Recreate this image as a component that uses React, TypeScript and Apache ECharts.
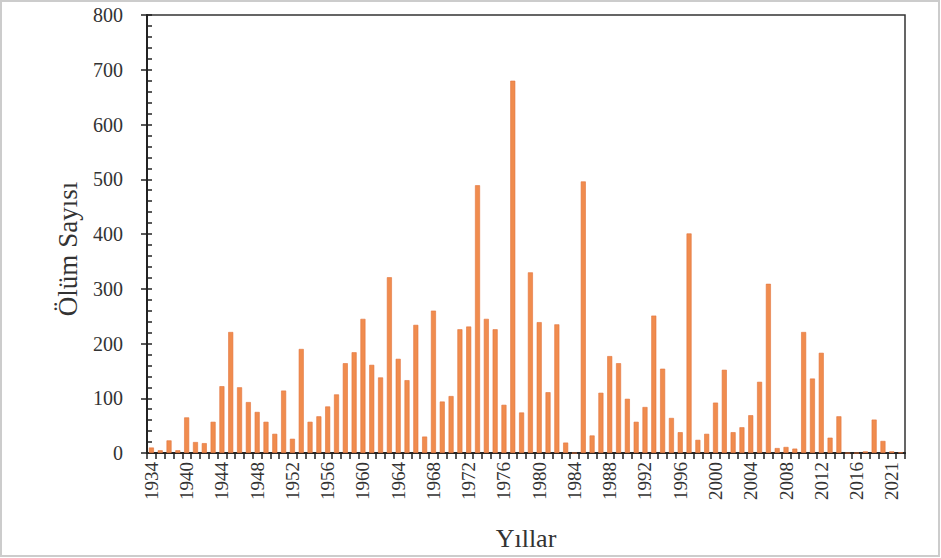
import React, { useEffect, useRef } from "react";
import * as echarts from "echarts";

const years: string[] = [
  "1934", "1935", "1936", "1938", "1940", "1941", "1942", "1943", "1944", "1945",
  "1946", "1947", "1948", "1949", "1950", "1951", "1952", "1953", "1954", "1955",
  "1956", "1957", "1958", "1959", "1960", "1961", "1962", "1963", "1964", "1965",
  "1966", "1967", "1968", "1969", "1970", "1971", "1972", "1973", "1974", "1975",
  "1976", "1977", "1978", "1979", "1980", "1981", "1982", "1983", "1984", "1985",
  "1986", "1987", "1988", "1989", "1990", "1991", "1992", "1993", "1994", "1995",
  "1996", "1997", "1998", "1999", "2000", "2001", "2002", "2003", "2004", "2005",
  "2006", "2007", "2008", "2009", "2010", "2011", "2012", "2013", "2014", "2015",
  "2016", "2017", "2018", "2020", "2021", "2022",
];

const deaths: number[] = [
  10, 5, 23, 5, 65, 20, 18, 57, 122, 221,
  120, 93, 75, 57, 35, 114, 26, 190, 57, 67,
  85, 107, 164, 184, 245, 161, 138, 321, 172, 133,
  234, 30, 260, 94, 104, 226, 231, 489, 245, 226,
  88, 680, 74, 330, 239, 111, 235, 19, 0, 496,
  32, 110, 177, 164, 99, 57, 84, 251, 154, 64,
  38, 401, 24, 35, 92, 152, 38, 47, 69, 130,
  309, 9, 11, 8, 221, 136, 183, 28, 67, 0,
  0, 3, 61, 22, 3, 1,
];

const xTitle = "Yıllar";
const yTitle = "Ölüm Sayısı";

const FONT = "'Liberation Serif', 'Times New Roman', serif";

export default function App() {
  const ref = useRef<HTMLDivElement>(null);

  useEffect(() => {
    if (!ref.current) return;
    const chart = echarts.init(ref.current, undefined, { renderer: "svg" });
    chart.setOption({
      animation: false,
      backgroundColor: "#ffffff",
      graphic: [
        {
          type: "rect",
          shape: { x: 1, y: 1, width: 938, height: 555 },
          style: { fill: "none", stroke: "#cccccc", lineWidth: 2 },
          silent: true,
        },
      ],
      grid: {
        left: 147,
        right: 36,
        top: 15,
        bottom: 105,
        show: true,
        borderColor: "#333333",
        borderWidth: 1.5,
        backgroundColor: "transparent",
      },
      xAxis: {
        type: "category",
        data: years,
        name: xTitle,
        nameLocation: "middle",
        nameGap: 72,
        nameTextStyle: { fontSize: 26, color: "#333333", fontFamily: FONT },
        axisLine: { show: true, lineStyle: { color: "#222222", width: 2 } },
        axisTick: { show: true, interval: 0, length: 6, lineStyle: { color: "#222222", width: 1.5 } },
        axisLabel: {
          interval: 3,
          rotate: 90,
          fontSize: 19,
          color: "#333333",
          fontFamily: FONT,
          margin: 9,
        },
        splitLine: { show: false },
      },
      yAxis: [
        {
          type: "value",
          min: 0,
          max: 800,
          interval: 100,
          name: yTitle,
          nameLocation: "middle",
          nameGap: 66,
          nameTextStyle: {
            fontSize: 27,
            color: "#333333",
            fontFamily: FONT,
            padding: [0, 30, 0, 0],
          },
          axisLine: { show: true, lineStyle: { color: "#222222", width: 2 } },
          axisTick: { show: true, length: 6, lineStyle: { color: "#222222", width: 1.5 } },
          axisLabel: { fontSize: 20, color: "#333333", fontFamily: FONT, margin: 24 },
          splitLine: { show: false },
        },
        {
          type: "value",
          min: 0,
          max: 800,
          interval: 20,
          position: "left",
          axisLine: { show: false },
          axisTick: { show: true, inside: true, length: 5, lineStyle: { color: "#222222", width: 1.5 } },
          axisLabel: { show: false },
          splitLine: { show: false },
        },
      ],
      series: [
        {
          type: "bar",
          data: deaths,
          yAxisIndex: 0,
          barWidth: 5,
          itemStyle: { color: "#F08C4E", borderColor: "#E2733C", borderWidth: 0.6 },
        },
      ],
    });
    return () => chart.dispose();
  }, []);

  return (
    <div
      ref={ref}
      style={{ position: "absolute", left: 0, top: 0, width: 941, height: 558 }}
    />
  );
}
